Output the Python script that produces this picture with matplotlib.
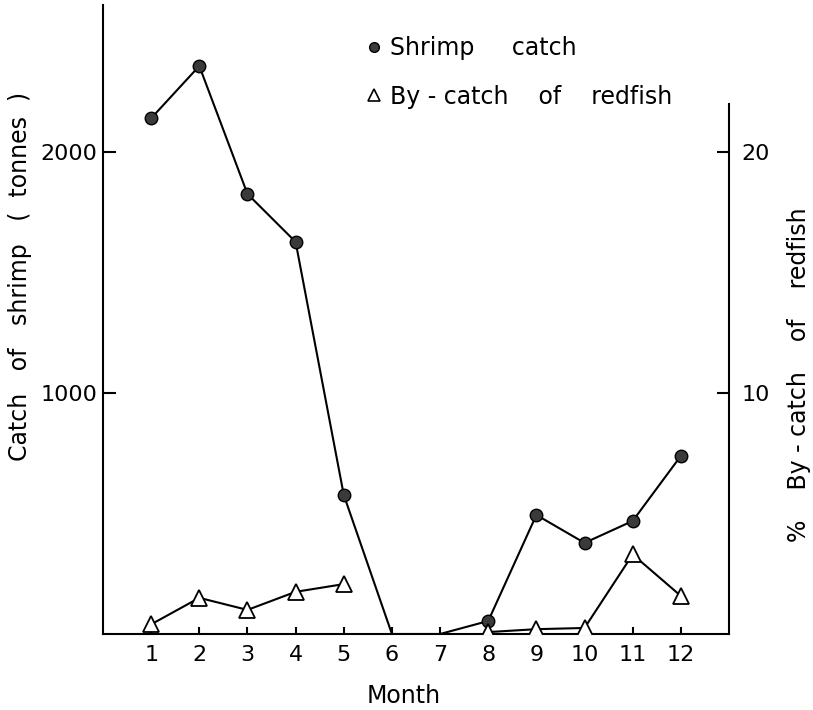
import matplotlib
matplotlib.use("Agg")
import matplotlib.pyplot as plt
from matplotlib.lines import Line2D
import numpy as np

# data
months = np.arange(1, 13)
shrimp_catch = [2140, 2357, 1826, 1627, 577, 0, 0, 54, 494, 378, 469, 739]   # tonnes
redfish_pct = [0.4, 1.5, 1.0, 1.75, 2.07, np.nan, np.nan, 0.08, 0.2, 0.25, 3.3, 1.58]  # %
shrimp_marked = [0, 1, 2, 3, 4, 7, 8, 9, 10, 11]   # months 6 and 7 have no dot

plt.rcParams['font.family'] = ['DejaVu Sans']
plt.rcParams['font.size'] = 16

fig = plt.figure(figsize=(8.13, 7.10), dpi=100)
ax = fig.add_axes([103/813, 1 - 634/710, 626/813, 629/710])
ax2 = ax.twinx()

ax.plot(months, shrimp_catch, color='black', lw=1.5, marker='o', ms=9,
        mfc='#3a3a3a', mec='black', mew=1, markevery=shrimp_marked, zorder=3)
ax2.plot(months, redfish_pct, color='black', lw=1.5, marker='^', ms=11,
         mfc='white', mec='black', mew=1.3, zorder=3)

ax.set_xlim(0, 13)
ax.set_ylim(0, 2610)
ax2.set_ylim(0, 2610 * 20 / 2000)

ax.set_xticks(months)
ax.set_yticks([1000, 2000])
ax2.set_yticks([10, 20])

# only left, bottom and a shorter right axis
ax.spines['top'].set_visible(False)
ax.spines['right'].set_visible(False)
ax2.spines['top'].set_visible(False)
ax2.spines['left'].set_visible(False)
ax2.spines['bottom'].set_visible(False)
ax2.spines['right'].set_bounds(0, 22)
for a in (ax, ax2):
    for s in a.spines.values():
        s.set_linewidth(1.5)

ax.tick_params(axis='x', direction='in', length=5, width=1.5, pad=8)
ax.tick_params(axis='y', direction='in', length=9, width=1.5, pad=4)
ax2.tick_params(axis='y', direction='in', length=9, width=1.5, pad=9)

ax.set_xlabel('Month', fontsize=17)
ax.xaxis.set_label_coords(0.48, -0.08)
ax.set_ylabel('Catch   of   shrimp   (  tonnes  )', fontsize=17)
ax.yaxis.set_label_coords(-0.113, 0.568)
ax2.set_ylabel('%    By - catch    of    redfish', fontsize=17, rotation=90)
ax2.yaxis.set_label_coords(1.093, 0.412)

handles = [
    Line2D([], [], ls='none', marker='o', ms=7, mfc='#3a3a3a', mec='black'),
    Line2D([], [], ls='none', marker='^', ms=8, mfc='white', mec='black', mew=1.2),
]
fig.legend(handles, ['Shrimp     catch', 'By - catch    of    redfish'],
           loc='upper left', bbox_to_anchor=(355/813, 1 - 24/710),
           frameon=False, fontsize=17, handlelength=0.6, handletextpad=0.4,
           labelspacing=1.05, borderpad=0)

fig.savefig('out.png', dpi=100)
